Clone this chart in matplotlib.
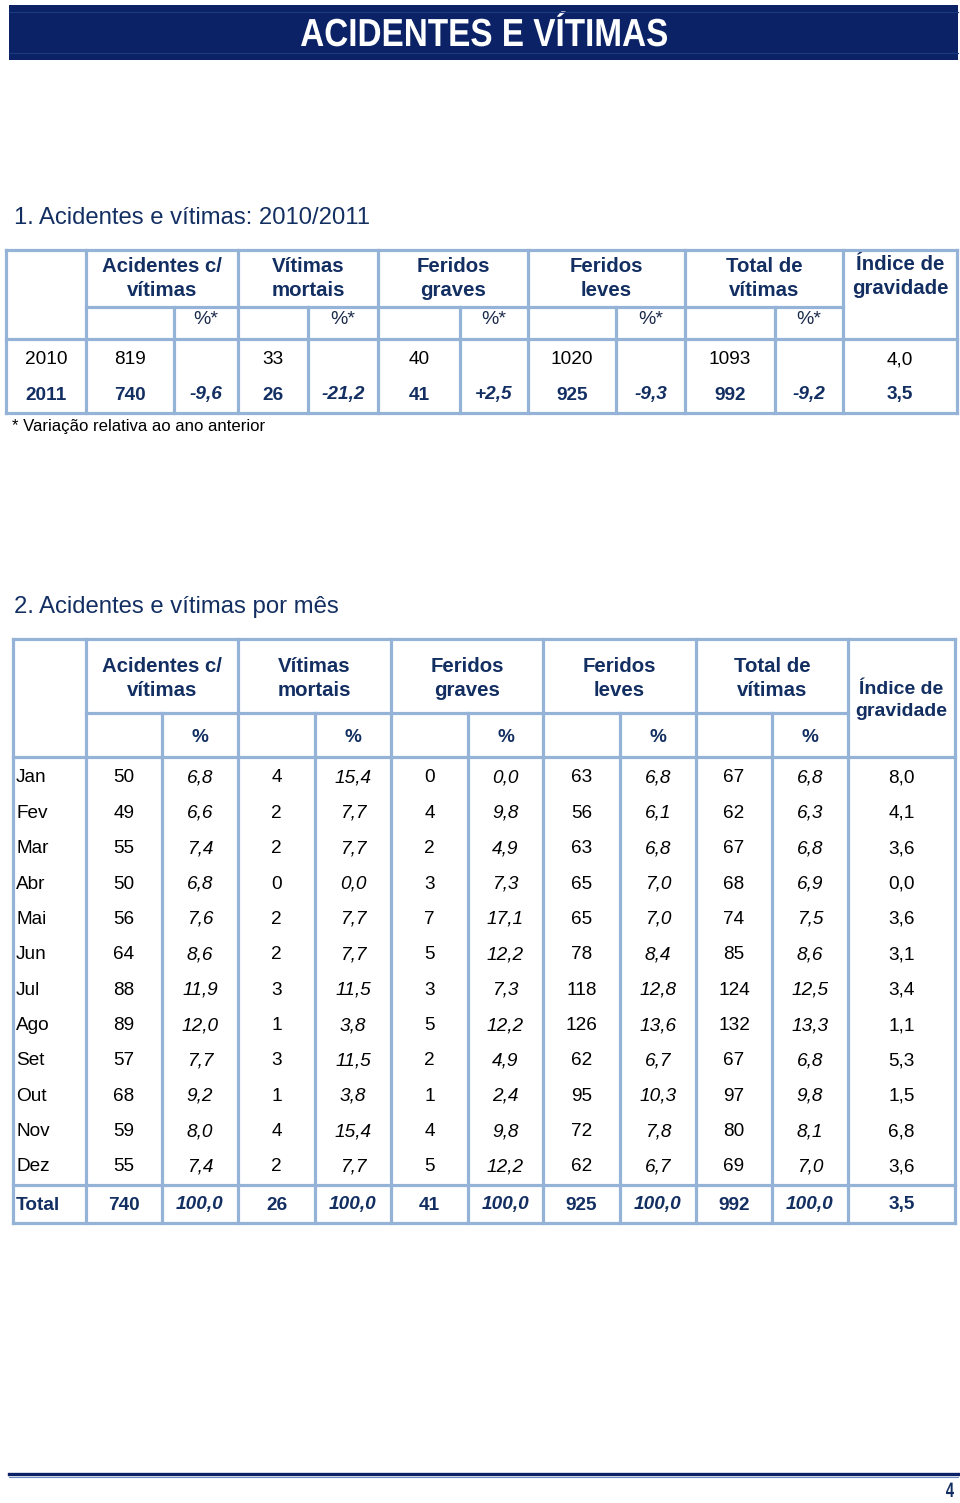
import matplotlib.pyplot as plt
from matplotlib.textpath import TextPath
from matplotlib.patches import PathPatch
from matplotlib.font_manager import FontProperties
from matplotlib.transforms import Affine2D

# cores e fontes
NAVY = "#0b2366"
HEAD = "#132f62"
GRID = "#95b3d7"
SANS = ["Liberation Sans", "DejaVu Sans"]
DY = 2  # ajuste vertical do texto

# ---- dados quadro 1 (2010/2011)
anos = ["2010", "2011"]
acid_ano = [819, 740]
mortos_ano = [33, 26]
graves_ano = [40, 41]
leves_ano = [1020, 925]
total_ano = [1093, 992]
indice_ano = [4.0, 3.5]
var_2011 = [-9.6, -21.2, 2.5, -9.3, -9.2]

# ---- dados quadro 2 (por mês)
meses = ["Jan", "Fev", "Mar", "Abr", "Mai", "Jun", "Jul", "Ago", "Set", "Out", "Nov", "Dez"]
acidentes = [50, 49, 55, 50, 56, 64, 88, 89, 57, 68, 59, 55]
acidentes_pct = [6.8, 6.6, 7.4, 6.8, 7.6, 8.6, 11.9, 12.0, 7.7, 9.2, 8.0, 7.4]
mortos = [4, 2, 2, 0, 2, 2, 3, 1, 3, 1, 4, 2]
mortos_pct = [15.4, 7.7, 7.7, 0.0, 7.7, 7.7, 11.5, 3.8, 11.5, 3.8, 15.4, 7.7]
graves = [0, 4, 2, 3, 7, 5, 3, 5, 2, 1, 4, 5]
graves_pct = [0.0, 9.8, 4.9, 7.3, 17.1, 12.2, 7.3, 12.2, 4.9, 2.4, 9.8, 12.2]
leves = [63, 56, 63, 65, 65, 78, 118, 126, 62, 95, 72, 62]
leves_pct = [6.8, 6.1, 6.8, 7.0, 7.0, 8.4, 12.8, 13.6, 6.7, 10.3, 7.8, 6.7]
total_vit = [67, 62, 67, 68, 74, 85, 124, 132, 67, 97, 80, 69]
total_pct = [6.8, 6.3, 6.8, 6.9, 7.5, 8.6, 12.5, 13.3, 6.8, 9.8, 8.1, 7.0]
indice = [8.0, 4.1, 3.6, 0.0, 3.6, 3.1, 3.4, 1.1, 5.3, 1.5, 6.8, 3.6]
totais = [740, 100.0, 26, 100.0, 41, 100.0, 925, 100.0, 992, 100.0, 3.5]

grupos = [["Acidentes c/", "vítimas"], ["Vítimas", "mortais"], ["Feridos", "graves"],
          ["Feridos", "leves"], ["Total de", "vítimas"]]


def dec(v, sinal=False):
    s = f"{v:+.1f}" if sinal else f"{v:.1f}"
    return s.replace(".", ",")


fig = plt.figure(figsize=(9.6, 15.03), dpi=100)
ax = fig.add_axes([0, 0, 1, 1])
ax.set_xlim(0, 960)
ax.set_ylim(1503, 0)
ax.axis("off")


def hline(y, x0, x1, c=GRID, lw=2.3):
    ax.plot([x0, x1], [y, y], color=c, lw=lw, solid_capstyle="projecting")


def vline(x, y0, y1, c=GRID, lw=2.3):
    ax.plot([x, x], [y0, y1], color=c, lw=lw, solid_capstyle="projecting")


def txt(x, y, s, size=13.7, color="black", weight="normal", style="normal", ha="center"):
    ax.text(x, y + DY, s, fontsize=size, color=color, fontweight=weight, fontstyle=style,
            ha=ha, va="center", family=SANS)


def narrow(s, xc, base, cap, largura, color):
    # texto condensado (tipo Arial Narrow) desenhado como contorno
    tp = TextPath((0, 0), s, size=1, prop=FontProperties(family="Liberation Sans", weight="bold"))
    bb = tp.get_extents()
    sy = cap / 0.716
    sx = largura / bb.width
    tr = Affine2D().translate(-bb.x0 - bb.width / 2, 0).scale(sx, -sy).translate(xc, base)
    ax.add_patch(PathPatch(tr.transform_path(tp), color=color, lw=0))


# faixa do título
ax.add_patch(plt.Rectangle((9, 5), 949, 55, color=NAVY, lw=0))
hline(12, 9, 958, c="#1c3a80", lw=0.8)
hline(53, 9, 958, c="#1c3a80", lw=0.8)
narrow("ACIDENTES E VÍTIMAS", 484, 46, 28, 366, "white")

# ================= quadro 1
txt(14, 216, "1. Acidentes e vítimas: 2010/2011", size=17.2, color=HEAD, ha="left")
L1, R1 = 6, 957
g1 = [86, 238, 378, 528, 685, 843]
s1 = [174, 308, 460, 616, 775]
for y in (250, 339, 413):
    hline(y, L1, R1)
hline(307, g1[0], g1[-1])
for x in [L1, R1] + g1:
    vline(x, 250, 413)
for x in s1:
    vline(x, 307, 413)

for i, g in enumerate(grupos):
    xc = (g1[i] + g1[i + 1]) / 2
    txt(xc, 265, g[0], size=14.7, color=HEAD, weight="bold")
    txt(xc, 289, g[1], size=14.7, color=HEAD, weight="bold")
    txt((s1[i] + g1[i + 1]) / 2, 318, "%*", size=14, color="#1a2a4a")
txt((843 + R1) / 2, 263, "Índice de", size=14.7, color=HEAD, weight="bold")
txt((843 + R1) / 2, 287, "gravidade", size=14.7, color=HEAD, weight="bold")

vals1 = [acid_ano, mortos_ano, graves_ano, leves_ano, total_ano]
for r, (ano, y) in enumerate(zip(anos, [358, 393])):
    bold = r == 1
    col = HEAD if bold else "black"
    w = "bold" if bold else "normal"
    txt((L1 + g1[0]) / 2, y, ano, color=col, weight=w)
    for i, serie in enumerate(vals1):
        txt((g1[i] + s1[i]) / 2, y, str(serie[r]), color=col, weight=w)
        if bold:
            txt((s1[i] + g1[i + 1]) / 2, y, dec(var_2011[i], sinal=var_2011[i] > 0),
                color=col, weight="bold", style="italic")
    txt((843 + R1) / 2, y, dec(indice_ano[r]), color=col, weight=w)

txt(12, 424, "* Variação relativa ao ano anterior", size=12.1, ha="left")

# ================= quadro 2
txt(14, 605, "2. Acidentes e vítimas por mês", size=17.2, color=HEAD, ha="left")
L2, R2 = 13, 955
g2 = [86, 238, 391, 543, 696, 848]
s2 = [162, 315, 468, 620, 772]
for y in (639, 757, 1185, 1223):
    hline(y, L2, R2)
hline(713, g2[0], g2[-1])
for x in [L2, R2] + g2:
    vline(x, 639, 1223)
for x in s2:
    vline(x, 713, 1223)

for i, g in enumerate(grupos):
    xc = (g2[i] + g2[i + 1]) / 2
    txt(xc, 664, g[0], size=14.7, color=HEAD, weight="bold")
    txt(xc, 688, g[1], size=14.7, color=HEAD, weight="bold")
    txt((s2[i] + g2[i + 1]) / 2, 735, "%", size=13.7, color=HEAD, weight="bold")
txt((848 + R2) / 2, 687, "Índice de", size=14, color=HEAD, weight="bold")
txt((848 + R2) / 2, 709, "gravidade", size=14, color=HEAD, weight="bold")

colunas = [acidentes, acidentes_pct, mortos, mortos_pct, graves, graves_pct,
           leves, leves_pct, total_vit, total_pct]
bordas = [g2[0], s2[0], g2[1], s2[1], g2[2], s2[2], g2[3], s2[3], g2[4], s2[4], g2[5], R2]
for r, mes in enumerate(meses):
    y = 776 + r * 35.36
    txt(16, y, mes, ha="left")
    for j, serie in enumerate(colunas):
        xc = (bordas[j] + bordas[j + 1]) / 2
        if j % 2:
            txt(xc, y, dec(serie[r]), style="italic")
        else:
            txt(xc, y, str(serie[r]))
    txt((bordas[10] + bordas[11]) / 2, y, dec(indice[r]))

y = 1203
txt(16, y, "Total", color=HEAD, weight="bold", ha="left")
for j, v in enumerate(totais):
    xc = (bordas[j] + bordas[j + 1]) / 2
    if j == 10:
        txt(xc, y, dec(v), color=HEAD, weight="bold")
    elif j % 2:
        txt(xc, y, dec(v), color=HEAD, weight="bold", style="italic")
    else:
        txt(xc, y, str(v), color=HEAD, weight="bold")

# rodapé
hline(1474, 9, 958, c=NAVY, lw=2.4)
hline(1477, 9, 958, c="#6f8fc4", lw=0.8)
narrow("4", 950, 1497, 15, 8, HEAD)

fig.savefig("out.png", dpi=100)
